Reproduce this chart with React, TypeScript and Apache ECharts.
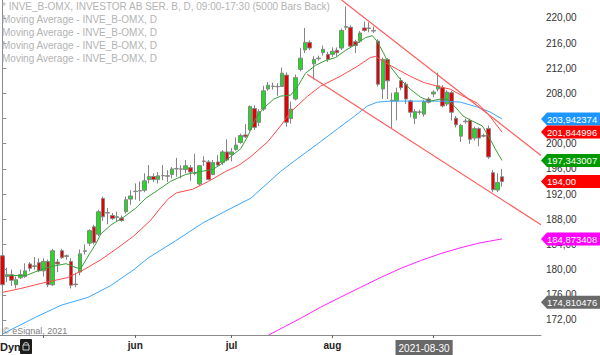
import React, { useEffect, useRef } from 'react';
import * as echarts from 'echarts';

// ---------- axis / calendar settings ----------
const START_DATE = '2021-04-20';
const HOLIDAYS = ['2021-05-13', '2021-06-25'];
const CATEGORY_COUNT = 118;
const MONTH_NAMES = ['jan', 'feb', 'mar', 'apr', 'maj', 'jun', 'jul', 'aug', 'sep', 'okt', 'nov', 'dec'];
const LABELED_MONTHS = ['2021-06', '2021-07', '2021-08'];
const HIGHLIGHT_DATE = '2021-08-30';
const Y_MIN = 169.61;
const Y_MAX = 222.835;
const Y_TICKS = [172, 176, 180, 184, 188, 192, 196, 200, 204, 208, 212, 216, 220];

// ---------- candles (daily OHLC) ----------
const openPrices = [
  182.2, 178.9, 179.2, 177.6, 178.7, 178.9, 180.9, 180.5, 181.1, 179.8,
  181.3, 177.6, 181.2, 183.0, 182.1, 181.3, 177.7, 179.6, 182.9, 184.2,
  186.8, 185.6, 191.3, 189.0, 188.6, 188.4, 188.2, 189.2, 191.2, 192.4,
  192.5, 192.6, 194.3, 194.8, 194.3, 194.9, 194.9, 195.1, 196.0, 196.0,
  195.9, 196.2, 195.3, 193.6, 197.2, 197.1, 195.1, 197.1, 197.0, 198.7,
  198.3, 199.1, 200.2, 201.4, 202.2, 205.6, 203.4, 205.5, 208.7, 209.1,
  209.1, 209.1, 210.9, 204.0, 207.1, 211.8, 214.9, 216.1, 212.7, 213.5,
  214.5, 214.2, 214.2, 214.85, 215.2, 218.5, 218.5, 216.2, 216.3, 218.4,
  218.3, 218.0, 216.3, 208.7, 213.4, 206.8, 206.8, 210.0, 209.45, 206.8,
  204.05, 205.0, 204.7, 207.1, 207.9, 208.7, 208.9, 206.3, 208.1, 204.05,
  201.2, 203.5, 203.7, 200.9, 202.4, 201.2, 202.4, 195.4, 192.65, 194.75,
];
const closePrices = [
  177.6, 179.2, 178.3, 178.4, 179.2, 179.8, 180.2, 180.6, 179.8, 181.3,
  177.6, 183.0, 180.9, 181.9, 182.2, 177.5, 177.6, 182.5, 183.0, 186.2,
  184.3, 189.2, 188.4, 189.05, 188.1, 188.3, 187.8, 191.1, 191.7, 192.45,
  192.55, 194.1, 194.8, 194.3, 194.9, 194.95, 194.85, 196.0, 196.05, 195.95,
  196.5, 195.5, 195.35, 196.5, 197.25, 194.3, 197.0, 196.6, 198.7, 197.4,
  198.7, 199.8, 201.3, 201.1, 205.9, 202.6, 205.1, 208.4, 209.3, 209.15,
  209.05, 211.2, 203.4, 205.5, 210.5, 213.6, 216.1, 215.2, 213.4, 213.6,
  215.0, 213.4, 214.7, 214.45, 218.0, 218.6, 215.5, 215.6, 217.6, 218.0,
  218.4, 217.9, 209.45, 213.4, 210.0, 206.9, 208.1, 208.9, 207.1, 205.0,
  205.1, 205.05, 206.7, 206.6, 208.2, 209.2, 206.0, 208.2, 205.0, 203.0,
  202.9, 203.6, 200.7, 202.4, 200.9, 201.3, 197.9, 192.7, 193.85, 194.0,
];
const lowPrices = [
  177.2, 178.0, 177.4, 177.0, 178.5, 178.7, 179.7, 180.0, 179.6, 178.9,
  177.2, 177.4, 179.6, 181.7, 181.6, 177.0, 177.2, 179.1, 182.4, 183.8,
  184.0, 185.3, 187.7, 187.2, 187.9, 187.7, 187.6, 188.9, 190.3, 191.1,
  190.9, 192.3, 193.7, 193.9, 193.7, 194.2, 193.9, 194.5, 194.75, 194.5,
  195.3, 194.1, 195.0, 193.3, 196.5, 194.2, 195.0, 196.4, 196.6, 197.2,
  197.2, 198.9, 200.0, 200.9, 202.0, 202.2, 202.8, 205.2, 208.4, 208.6,
  207.6, 209.0, 202.7, 203.2, 206.9, 211.5, 214.4, 214.9, 210.2, 213.2,
  214.0, 213.0, 213.8, 213.8, 214.9, 218.1, 215.2, 214.4, 216.0, 217.8,
  217.7, 217.6, 209.1, 207.1, 207.1, 202.4, 203.7, 208.5, 206.3, 204.2,
  203.1, 204.6, 204.3, 206.4, 207.4, 208.3, 205.8, 206.0, 203.7, 202.6,
  200.3, 203.2, 200.0, 200.5, 199.6, 201.0, 197.6, 192.3, 192.3, 193.2,
];
const highPrices = [
  182.5, 180.3, 180.0, 178.9, 180.0, 181.0, 181.2, 182.0, 181.8, 181.8,
  181.6, 183.3, 181.7, 183.3, 182.4, 181.8, 179.5, 183.2, 184.0, 186.4,
  187.1, 189.5, 191.6, 189.8, 189.0, 189.2, 188.6, 191.6, 192.6, 193.7,
  194.0, 195.3, 196.6, 195.3, 195.5, 196.6, 195.8, 196.3, 197.75, 196.6,
  197.4, 196.6, 198.4, 196.6, 198.0, 197.4, 197.4, 198.2, 199.0, 200.7,
  199.3, 201.0, 201.6, 203.1, 206.1, 206.1, 205.5, 209.2, 209.8, 209.7,
  209.6, 212.1, 211.3, 206.7, 211.0, 215.2, 218.4, 216.4, 213.9, 214.0,
  215.6, 214.6, 215.3, 215.3, 218.3, 221.8, 218.8, 216.5, 217.9, 219.4,
  219.3, 218.6, 216.6, 213.7, 213.6, 208.1, 208.9, 210.5, 209.8, 207.0,
  205.5, 205.4, 207.0, 207.4, 208.5, 211.3, 209.3, 208.5, 208.4, 204.4,
  203.15, 204.0, 204.0, 202.7, 202.6, 201.6, 202.9, 195.8, 195.3, 196.0,
];

// ---------- moving averages as [bar index, price] ----------
const maShort = [
  [1.5, 179.06], [5.2, 179.06], [7.3, 179.69], [10.6, 180.47], [13.9, 180.94], [16.1, 180.31],
  [17.1, 180.16], [18.9, 182.36], [20.4, 184.09], [21.5, 185.67], [23.7, 187.09], [26.5, 188.35],
  [29.1, 189.76], [31.3, 191.34], [33.9, 192.6], [36.7, 194.02], [40.0, 195.12], [43.3, 195.59],
  [45.9, 195.91], [47.6, 196.69], [49.8, 197.95], [52.0, 199.21], [53.5, 201.1], [55.2, 203.94],
  [56.8, 205.51], [59.2, 207.09], [60.7, 207.56], [62.9, 207.72], [64.6, 209.29], [66.1, 211.18],
  [68.3, 212.44], [70.5, 213.23], [72.7, 213.7], [74.8, 214.8], [77.0, 215.75], [79.2, 216.85],
  [80.7, 217.17], [81.8, 216.22], [83.1, 214.49], [84.6, 212.28], [86.8, 210.24], [89.0, 208.66],
  [91.2, 207.4], [93.3, 206.77], [95.5, 207.09], [97.0, 207.09], [98.8, 205.83], [100.5, 204.41],
  [102.0, 203.78], [104.7, 202.83], [106.0, 201.26], [107.5, 199.21], [109, 197.343007],
];
const maMid = [
  [0, 176.38], [4.1, 177.01], [8.4, 177.8], [14.3, 178.74], [17.8, 180.0], [21.5, 181.57],
  [25.2, 183.46], [28.7, 185.35], [32.4, 187.87], [34.5, 189.8], [36.3, 191.3], [38.0, 192.2],
  [41.5, 192.76], [45.0, 194.02], [48.7, 195.59], [51.5, 196.54], [54.2, 197.95], [57.9, 200.31],
  [60.7, 202.83], [62.9, 205.04], [66.6, 207.56], [69.4, 209.13], [73.7, 210.71], [77.4, 212.28],
  [80.3, 213.7], [81.4, 213.86], [83.1, 213.07], [86.2, 211.81], [89.0, 210.71], [91.8, 209.76],
  [94.9, 209.13], [97.7, 208.66], [100.5, 207.56], [103.6, 206.46], [105.8, 204.88], [109, 201.844996],
];
const maLong = [
  [0, 169.76], [7.3, 172.44], [12.8, 174.33], [18.7, 175.59], [23.7, 177.48], [28.7, 180.0],
  [31.9, 181.89], [37.8, 184.57], [43.7, 187.4], [48.7, 189.29], [54.2, 191.34], [60.7, 195.59],
  [64.4, 197.64], [69.4, 200.31], [73.1, 202.36], [76.6, 204.25], [79.6, 205.98], [81.8, 206.61],
  [84.6, 206.77], [89.0, 206.77], [93.3, 206.77], [96.2, 206.77], [99.9, 206.61], [103.6, 205.83],
  [106.4, 205.04], [109, 203.942374],
];
const maVeryLong = [
  [58.1, 169.61], [61.8, 171.02], [65.5, 172.44], [69.4, 174.02], [73.7, 175.59], [78.1, 177.17],
  [82.5, 178.74], [86.8, 180.16], [91.2, 181.42], [95.5, 182.52], [99.9, 183.46], [104.2, 184.25],
  [109, 184.873408],
];

// ---------- trend channel ----------
const upperTrend = [[74.0, 222.83], [117.5, 198.14]];
const lowerTrend = [[66.5, 211.02], [117.5, 187.12]];

// ---------- price tags on the right axis ----------
const tagValues = [203.942374, 201.844996, 197.343007, 194.0, 184.873408, 174.810476];
const tagLabels = ['203,942374', '201,844996', '197,343007', '194,00', '184,873408', '174,810476'];
const tagColors = ['#1e96ff', '#ff0000', '#009a00', '#ff0000', '#ff00ff', '#6a6a6a'];

const titleLines = [
  '* INVE_B-OMX, INVESTOR AB SER. B, D, 09:00-17:30 (5000 Bars Back)',
  'Moving Average - INVE_B-OMX, D',
  'Moving Average - INVE_B-OMX, D',
  'Moving Average - INVE_B-OMX, D',
  'Moving Average - INVE_B-OMX, D',
];

const FONT = '"Liberation Sans", Arial, sans-serif';

function tradingDays(start: string, count: number): string[] {
  const out: string[] = [];
  const d = new Date(start + 'T00:00:00Z');
  while (out.length < count) {
    const dow = d.getUTCDay();
    const s = d.toISOString().slice(0, 10);
    if (dow !== 0 && dow !== 6 && !HOLIDAYS.includes(s)) out.push(s);
    d.setUTCDate(d.getUTCDate() + 1);
  }
  return out;
}

export default function App() {
  const ref = useRef<HTMLDivElement>(null);

  useEffect(() => {
    if (!ref.current) return;
    const chart = echarts.init(ref.current, undefined, { renderer: 'svg' });
    const dates = tradingDays(START_DATE, CATEGORY_COUNT);
    const lastBar = openPrices.length - 1;

    const tickSet = new Set<number>();
    const labelSet = new Set<number>();
    dates.forEach((d, i) => {
      if (i > 0 && i <= lastBar && d.slice(0, 7) !== dates[i - 1].slice(0, 7)) {
        tickSet.add(i);
        if (LABELED_MONTHS.includes(d.slice(0, 7))) labelSet.add(i);
      }
      if (d === HIGHLIGHT_DATE) labelSet.add(i);
    });

    const candles = openPrices.map((o, i) => [o, closePrices[i], lowPrices[i], highPrices[i]]);

    const lineSeries = (data: number[][], color: string, width = 1) => ({
      type: 'line',
      xAxisIndex: 1,
      yAxisIndex: 0,
      data,
      symbol: 'none',
      silent: true,
      lineStyle: { color, width },
      z: 3,
    });

    chart.setOption({
      animation: false,
      backgroundColor: '#ffffff',
      grid: { left: -1, right: 59, top: 0, bottom: 17, containLabel: false },
      xAxis: [
        {
          type: 'category',
          data: dates,
          boundaryGap: true,
          axisLine: { show: true, lineStyle: { color: '#8c8c8c', width: 1 } },
          axisTick: {
            show: true,
            alignWithLabel: true,
            interval: (i: number) => tickSet.has(i),
            length: 3,
            lineStyle: { color: '#666' },
          },
          axisLabel: {
            interval: (i: number) => labelSet.has(i),
            formatter: (val: string) => {
              if (val === HIGHLIGHT_DATE) return '{hl|' + val + '}';
              return MONTH_NAMES[parseInt(val.slice(5, 7), 10) - 1];
            },
            color: '#222',
            fontWeight: 'bold',
            fontSize: 10,
            fontFamily: FONT,
            margin: 5,
            rich: {
              hl: {
                backgroundColor: '#686868',
                color: '#ffffff',
                fontWeight: 'normal',
                fontSize: 10,
                fontFamily: FONT,
                padding: [3, 3, 2, 3],
              },
            },
          },
          splitLine: { show: false },
        },
        { type: 'value', min: -0.5, max: CATEGORY_COUNT - 0.5, show: false },
      ],
      yAxis: [
        {
          type: 'value',
          position: 'right',
          min: Y_MIN,
          max: Y_MAX,
          splitLine: { show: false },
          axisLine: { show: true, lineStyle: { color: '#8c8c8c' } },
          axisTick: { show: true, customValues: Y_TICKS, length: 4, lineStyle: { color: '#8c8c8c' } },
          axisLabel: {
            customValues: Y_TICKS,
            formatter: (v: number) => v.toFixed(2).replace('.', ','),
            color: '#333',
            fontSize: 10,
            fontFamily: FONT,
            margin: 5,
          },
        },
      ],
      series: [
        {
          type: 'candlestick',
          xAxisIndex: 0,
          yAxisIndex: 0,
          data: candles,
          barWidth: 4,
          silent: true,
          itemStyle: {
            color: '#19e019',
            color0: '#e80000',
            borderColor: '#858585',
            borderColor0: '#858585',
            borderWidth: 1,
          },
          z: 2,
        },
        lineSeries(maLong, '#3aa8ff'),
        lineSeries(maVeryLong, '#ff22ff'),
        lineSeries(maMid, '#ff4a4a'),
        lineSeries(maShort, '#3a9e3a'),
        lineSeries(upperTrend, '#ff5a5a', 1.2),
        lineSeries(lowerTrend, '#ff5a5a', 1.2),
      ],
    });

    const axisX = chart.convertToPixel({ xAxisIndex: 1 }, CATEGORY_COUNT - 0.5) as number;
    const tagEls = tagValues.map((v, k) => {
      const y = chart.convertToPixel({ yAxisIndex: 0 }, v) as number;
      return {
        type: 'group',
        z: 100,
        children: [
          {
            type: 'polygon',
            z: 100,
            shape: {
              points: [
                [axisX, y],
                [axisX + 6, y - 6.5],
                [600, y - 6.5],
                [600, y + 6.5],
                [axisX + 6, y + 6.5],
              ],
            },
            style: { fill: tagColors[k] },
          },
          {
            type: 'text',
            z: 101,
            x: axisX + 6,
            y: y + 0.5,
            style: { text: tagLabels[k], fill: '#ffffff', font: '9.5px ' + FONT, verticalAlign: 'middle' },
          },
        ],
      };
    });

    const titleEls = titleLines.map((t, k) => ({
      type: 'text',
      z: 50,
      x: 2,
      y: 6 + k * 13,
      style: { text: t, fill: '#b3b3b3', font: '10px ' + FONT, verticalAlign: 'middle' },
    }));

    const extraEls = [
      {
        type: 'text',
        z: 50,
        x: 3,
        y: 331,
        style: { text: '© eSignal, 2021', fill: '#808080', font: '9px ' + FONT, verticalAlign: 'middle' },
      },
      {
        type: 'text',
        z: 50,
        x: 0,
        y: 347,
        style: { text: 'Dyn', fill: '#222', font: 'bold 11px ' + FONT, verticalAlign: 'middle' },
      },
      { type: 'rect', z: 50, shape: { x: 20, y: 339, width: 12, height: 15, r: 1 }, style: { fill: '#1c1c1c' } },
      {
        type: 'arc',
        z: 51,
        shape: { cx: 26, cy: 345, r: 2.5, startAngle: Math.PI, endAngle: 2 * Math.PI },
        style: { stroke: '#d0d0d0', lineWidth: 1, fill: 'none' },
      },
      {
        type: 'rect',
        z: 51,
        shape: { x: 23, y: 345, width: 6, height: 5 },
        style: { stroke: '#d0d0d0', lineWidth: 1, fill: 'none' },
      },
    ];

    chart.setOption({ graphic: [...titleEls, ...extraEls, ...tagEls] });

    return () => chart.dispose();
  }, []);

  return (
    <div
      ref={ref}
      style={{ position: 'fixed', left: 0, top: 0, width: 600, height: 355, background: '#fff' }}
    />
  );
}
